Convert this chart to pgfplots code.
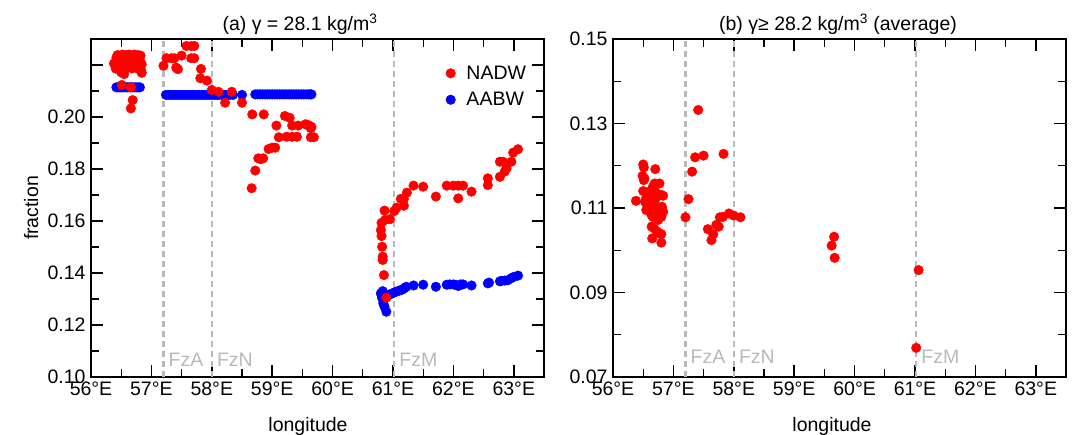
\documentclass[border=0pt]{standalone}
\usepackage{pgfplots}
\pgfplotsset{compat=1.18}
\usepackage{fontspec}
\setmainfont{Liberation Sans}
\definecolor{fzgray}{RGB}{185,185,185}
\tikzset{fzlab/.style={fzgray, anchor=base west, inner sep=0pt, xshift=5pt}}
\pgfplotsset{
  myaxis/.style={
    scale only axis, width=453pt, height=338pt,
    xmin=56, xmax=63.5,
    xtick={56,57,58,59,60,61,62,63},
    xticklabels={56°E,57°E,58°E,59°E,60°E,61°E,62°E,63°E},
    minor xtick={56.5,57.5,58.5,59.5,60.5,61.5,62.5},
    tick align=inside, xtick pos=both, ytick pos=both,
    major tick length=12pt, minor tick length=8pt,
    every major tick/.append style={line width=1.6pt, black},
    every minor tick/.append style={line width=1.1pt, black},
    axis line style={line width=2.4pt},
    yticklabel style={xshift=-2pt},
    xticklabel style={yshift=-1pt},
    clip=false,
  },
  dotsR/.style={only marks, mark=*, mark size=4.8pt, color=red},
  dotsB/.style={only marks, mark=*, mark size=4.8pt, color=blue},
  fzline/.style={fzgray, line width=2.2pt, dash pattern=on 6pt off 4pt, forget plot},
}
\begin{document}
\begin{tikzpicture}[font=\fontsize{19.5}{22}\selectfont]
% ---------------- panel (a)
\begin{axis}[myaxis, at={(91pt,58pt)}, anchor=south west,
  ymin=0.10, ymax=0.23,
  ytick={0.10,0.12,0.14,0.16,0.18,0.20,0.22},
  yticklabels={0.10,0.12,0.14,0.16,0.18,0.20,{}},
  minor ytick={0.11,0.13,0.15,0.17,0.19,0.21},
  legend style={draw=none, fill=none, at={(0.783,0.927)}, anchor=north west,
    inner sep=0pt, row sep=7.5pt, column sep=9pt},
  legend cell align=left,
]
\addlegendimage{dotsR}
\addlegendentry{NADW}
\addlegendimage{dotsB}
\addlegendentry{AABW}
% AABW
\addplot[dotsB, forget plot] coordinates {
(56.42,0.2114)(56.45,0.2114)(56.48,0.2114)(56.51,0.2114)(56.54,0.2114)(56.57,0.2114)(56.60,0.2114)(56.63,0.2114)(56.66,0.2114)(56.69,0.2114)(56.72,0.2114)(56.75,0.2114)(56.78,0.2114)(56.81,0.2114)
(57.24,0.2085)(57.28,0.2085)(57.32,0.2085)(57.36,0.2085)(57.40,0.2085)(57.44,0.2085)(57.48,0.2085)(57.52,0.2085)(57.56,0.2085)(57.60,0.2085)(57.64,0.2085)(57.68,0.2085)(57.72,0.2085)(57.76,0.2085)(57.80,0.2085)(57.84,0.2085)(57.88,0.2085)(57.92,0.2085)(57.96,0.2085)(58.00,0.2085)(58.04,0.2085)(58.08,0.2085)(58.12,0.2085)(58.16,0.2085)(58.20,0.2085)(58.25,0.2085)(58.30,0.2085)(58.35,0.2085)(58.50,0.2085)
(58.72,0.2087)(58.76,0.2087)(58.80,0.2087)(58.84,0.2087)(58.88,0.2087)(58.92,0.2087)(58.96,0.2087)(59.00,0.2087)(59.04,0.2087)(59.08,0.2087)(59.12,0.2087)(59.16,0.2087)(59.20,0.2087)(59.24,0.2087)(59.28,0.2087)(59.32,0.2087)(59.36,0.2087)(59.40,0.2087)(59.44,0.2087)(59.48,0.2087)(59.52,0.2087)(59.56,0.2087)(59.60,0.2087)(59.63,0.2087)(59.65,0.2087)
(60.80,0.1322)(60.82,0.1303)(60.84,0.1283)(60.86,0.1270)(60.89,0.1251)(60.81,0.1315)(60.83,0.1330)
(60.93,0.1315)(60.97,0.1320)(61.01,0.1324)(61.05,0.1328)(61.09,0.1331)(61.13,0.1334)(61.16,0.1337)(61.19,0.1342)(61.22,0.1347)(61.34,0.1352)(61.50,0.1355)(61.71,0.1347)(61.89,0.1355)(61.94,0.1356)(62.00,0.1356)(62.04,0.1354)(62.08,0.1350)(62.12,0.1356)(62.16,0.1356)(62.30,0.1352)(62.57,0.1360)(62.59,0.1363)(62.77,0.1368)(62.80,0.1370)(62.85,0.1371)(62.90,0.1372)(62.96,0.1380)(63.00,0.1385)(63.07,0.1390)
};
% NADW
\addplot[dotsR, forget plot] coordinates {
(56.44,0.2238)(56.52,0.2240)(56.58,0.2238)(56.63,0.2240)(56.68,0.2237)(56.72,0.2240)(56.78,0.2238)(56.82,0.2236)
(56.42,0.2228)(56.48,0.2230)(56.55,0.2228)(56.62,0.2230)(56.70,0.2228)(56.75,0.2230)(56.80,0.2227)
(56.45,0.2218)(56.50,0.2220)(56.57,0.2218)(56.66,0.2220)(56.73,0.2218)(56.81,0.2216)
(56.38,0.2206)(56.44,0.2206)(56.52,0.2205)(56.60,0.2206)(56.66,0.2207)(56.72,0.2205)(56.80,0.2206)(56.84,0.2203)
(56.47,0.2195)(56.56,0.2194)(56.64,0.2196)(56.76,0.2194)
(56.41,0.2186)(56.53,0.2185)(56.68,0.2187)(56.79,0.2184)(56.83,0.2180)
(56.50,0.2172)(56.55,0.2165)(56.84,0.2170)
(56.51,0.2123)(56.66,0.2114)(56.69,0.2065)(56.66,0.2033)
(57.20,0.2197)(57.25,0.2226)(57.33,0.2226)(57.38,0.2226)(57.41,0.2190)(57.44,0.2184)(57.50,0.2236)(57.58,0.2273)(57.66,0.2273)(57.71,0.2273)(57.66,0.2226)(57.71,0.2226)(57.82,0.2185)(57.81,0.2149)(57.92,0.2140)(58.00,0.2104)(58.11,0.2097)(58.33,0.2097)(58.22,0.2055)(58.50,0.2055)
(58.67,0.2010)(58.86,0.2010)(58.66,0.1726)(58.72,0.1794)(58.77,0.1841)(58.85,0.1841)(58.81,0.1838)(58.94,0.1877)(59.00,0.1882)(59.05,0.1882)(59.07,0.1967)(59.11,0.1922)(59.21,0.2004)(59.29,0.1997)(59.24,0.1924)(59.33,0.1924)(59.41,0.1924)(59.33,0.1967)(59.43,0.1967)(59.55,0.1972)(59.61,0.1967)(59.64,0.1957)(59.64,0.1922)(59.69,0.1922)(59.58,0.1970)(59.65,0.1962)
(60.85,0.1392)(60.83,0.1463)(60.83,0.1450)(60.82,0.1501)(60.81,0.1542)(60.80,0.1565)(60.81,0.1593)(60.87,0.1604)(60.95,0.1607)(60.86,0.1640)(61.02,0.1638)(61.06,0.1651)(61.13,0.1685)(61.18,0.1685)(61.18,0.1659)(61.23,0.1709)(61.34,0.1736)(61.50,0.1732)(61.71,0.1694)(61.89,0.1736)(62.00,0.1736)(62.08,0.1736)(62.16,0.1736)(62.08,0.1687)(62.30,0.1713)(62.57,0.1764)(62.57,0.1738)(62.77,0.1828)(62.82,0.1828)(62.96,0.1828)(62.88,0.1803)(62.85,0.1790)(62.77,0.1770)(62.99,0.1863)(63.07,0.1876)(60.89,0.1305)
};
\addplot[fzline] coordinates {(57.2,0.10) (57.2,0.23)};
\addplot[fzline] coordinates {(58.0,0.10) (58.0,0.23)};
\addplot[fzline] coordinates {(61.02,0.10) (61.02,0.23)};
\node[fzlab] at (axis cs:57.2,0.1040) {FzA};
\node[fzlab] at (axis cs:58.0,0.1040) {FzN};
\node[fzlab] at (axis cs:61.02,0.1040) {FzM};
\end{axis}
% ---------------- panel (b)
\begin{axis}[myaxis, at={(613pt,58pt)}, anchor=south west,
  ymin=0.07, ymax=0.15,
  ytick={0.07,0.09,0.11,0.13,0.15},
  yticklabels={0.07,0.09,0.11,0.13,0.15},
  minor ytick={0.08,0.10,0.12,0.14},
]
\addplot[dotsR, forget plot] coordinates {
(56.38,0.1117)(56.50,0.1203)(56.51,0.1196)(56.49,0.1176)(56.51,0.1166)(56.50,0.1140)(56.70,0.1192)(56.55,0.1123)(56.56,0.1109)(56.55,0.1095)(56.64,0.1083)(56.66,0.1079)(56.69,0.1158)(56.68,0.1143)(56.72,0.1135)(56.77,0.1158)(56.80,0.1131)(56.83,0.1129)(56.64,0.1125)(56.61,0.1111)(56.81,0.1103)(56.83,0.1091)(56.80,0.1079)(56.64,0.1056)(56.68,0.1052)(56.73,0.1044)(56.77,0.1040)(56.80,0.1038)(56.65,0.1028)(56.80,0.1018)(56.75,0.1072)(56.60,0.1099)(56.52,0.1170)(56.58,0.1120)(56.66,0.1150)(56.70,0.1120)(56.62,0.1140)(56.74,0.1100)(56.78,0.1085)(56.58,0.1105)(56.71,0.1080)(56.53,0.1115)
(57.20,0.1078)(57.25,0.1121)(57.31,0.1186)(57.36,0.1220)(57.41,0.1332)(57.50,0.1224)(57.57,0.1050)(57.66,0.1038)(57.63,0.1024)(57.71,0.1060)(57.75,0.1056)(57.77,0.1078)(57.82,0.1079)(57.83,0.1228)(57.92,0.1087)(58.00,0.1082)(58.11,0.1078)
(59.66,0.1032)(59.62,0.1011)(59.67,0.0982)(61.06,0.0953)(61.02,0.0769)
};
\addplot[fzline] coordinates {(57.2,0.07) (57.2,0.15)};
\addplot[fzline] coordinates {(58.0,0.07) (58.0,0.15)};
\addplot[fzline] coordinates {(61.02,0.07) (61.02,0.15)};
\node[fzlab] at (axis cs:57.2,0.0731) {FzA};
\node[fzlab] at (axis cs:58.0,0.0731) {FzN};
\node[fzlab] at (axis cs:61.02,0.0731) {FzM};
\end{axis}
% titles and labels
\node[anchor=base, inner sep=0pt] at (300pt,404pt) {(a) γ = 28.1 kg/m\textsuperscript{3}};
\node[anchor=base, inner sep=0pt] at (838pt,404pt) {(b) γ≥ 28.2 kg/m\textsuperscript{3} (average)};
\node[anchor=base, inner sep=0pt, rotate=90] at (38pt,227pt) {fraction};
\node[anchor=base, inner sep=0pt] at (308pt,3pt) {longitude};
\node[anchor=base, inner sep=0pt] at (832pt,3pt) {longitude};
\pgfresetboundingbox
\useasboundingbox (0pt,0pt) rectangle (1074pt,435pt);
\end{tikzpicture}
\end{document}
